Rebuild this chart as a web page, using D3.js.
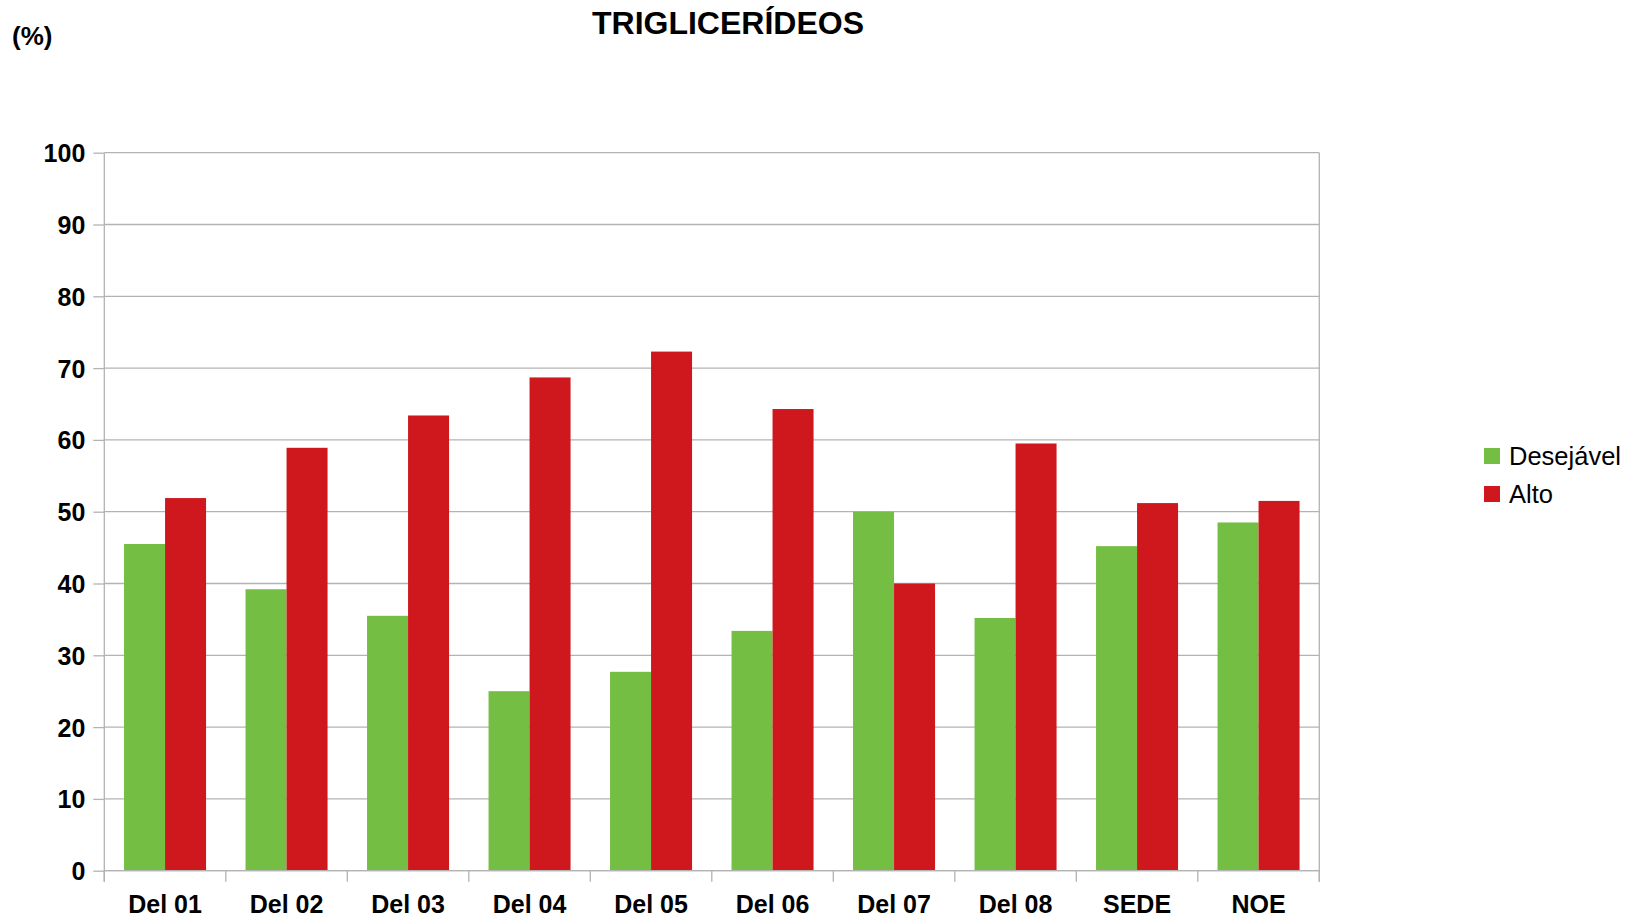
<!DOCTYPE html>
<html>
<head>
<meta charset="utf-8">
<script src="https://cdn.jsdelivr.net/npm/d3@7"></script>
<style>
  body { margin: 0; background: #fff; }
  svg { font-family: "Liberation Sans", Arial, sans-serif; }
  .grid line { stroke: #b3b3b3; stroke-width: 1.3; }
  .axis path, .axis line { stroke: #b3b3b3; stroke-width: 1.3; }
  .axis text { font-size: 25px; font-weight: bold; fill: #000; }
</style>
</head>
<body>
<svg width="1637" height="919"></svg>
<script>
var categories = ["Del 01", "Del 02", "Del 03", "Del 04", "Del 05", "Del 06", "Del 07", "Del 08", "SEDE", "NOE"];
var desejavel = [45.5, 39.2, 35.5, 25.0, 27.7, 33.4, 50.0, 35.2, 45.2, 48.5];
var alto = [51.9, 58.9, 63.4, 68.7, 72.3, 64.3, 40.0, 59.5, 51.2, 51.5];
var seriesNames = ["Desejável", "Alto"];
var seriesColors = ["#73be43", "#ce181e"];
var yTicks = [0, 10, 20, 30, 40, 50, 60, 70, 80, 90, 100];

var svg = d3.select("svg");
// note: "top" is reserved on window, so use plot* names
var plotL = 104.3, plotR = 1319.3, plotT = 152.7, plotB = 870.7;

var x = d3.scaleBand()
    .domain(categories)
    .range([plotL, plotR])
    .paddingInner(0.325)
    .paddingOuter(0.1625);

var xs = d3.scaleBand()
    .domain(seriesNames)
    .range([0, x.bandwidth()]);

var y = d3.scaleLinear()
    .domain([0, 100])
    .range([plotB, plotT]);

// gridlines
svg.append("g")
    .attr("class", "grid")
  .selectAll("line")
  .data(yTicks)
  .enter().append("line")
    .attr("x1", plotL)
    .attr("x2", plotR)
    .attr("y1", function(d) { return y(d); })
    .attr("y2", function(d) { return y(d); });

// right frame
svg.append("line")
    .attr("x1", plotR).attr("x2", plotR)
    .attr("y1", plotT).attr("y2", plotB + 11)
    .attr("stroke", "#b3b3b3").attr("stroke-width", 1.3);

var rows = categories.map(function(c, i) {
  return { cat: c, vals: [desejavel[i], alto[i]] };
});

var groups = svg.append("g").selectAll("g")
  .data(rows)
  .enter().append("g")
    .attr("transform", function(d) { return "translate(" + x(d.cat) + ",0)"; });

groups.selectAll("rect")
  .data(function(d) { return d.vals.map(function(v, j) { return { s: seriesNames[j], v: v, j: j }; }); })
  .enter().append("rect")
    .attr("x", function(d) { return xs(d.s); })
    .attr("width", xs.bandwidth())
    .attr("y", function(d) { return y(d.v); })
    .attr("height", function(d) { return plotB - y(d.v); })
    .attr("fill", function(d) { return seriesColors[d.j]; });

// y axis
var yAxis = svg.append("g")
    .attr("class", "axis")
    .attr("transform", "translate(" + plotL + ",0)")
    .call(d3.axisLeft(y).tickValues(yTicks).tickSize(11).tickSizeOuter(0).tickPadding(8));
yAxis.select(".domain").attr("d", "M0," + plotT + "V" + (plotB + 11));
yAxis.selectAll("text").attr("dy", "0.36em");

// x axis: ticks at category boundaries
var step = x.step();
var bounds = d3.range(categories.length + 1).map(function(i) { return plotL + i * step; });
svg.append("g")
    .attr("class", "axis")
  .selectAll("line")
  .data(bounds)
  .enter().append("line")
    .attr("x1", function(d) { return d; })
    .attr("x2", function(d) { return d; })
    .attr("y1", plotB)
    .attr("y2", plotB + 11);

svg.append("line")
    .attr("x1", plotL).attr("x2", plotR)
    .attr("y1", plotB).attr("y2", plotB)
    .attr("stroke", "#b3b3b3").attr("stroke-width", 1.3);

svg.append("g")
    .attr("class", "axis")
  .selectAll("text")
  .data(categories)
  .enter().append("text")
    .attr("x", function(d) { return x(d) + x.bandwidth() / 2; })
    .attr("y", 913)
    .attr("text-anchor", "middle")
    .text(function(d) { return d; });

// title
svg.append("text")
    .attr("x", 728)
    .attr("y", 34)
    .attr("text-anchor", "middle")
    .attr("font-size", 32)
    .attr("font-weight", "bold")
    .text("TRIGLICERÍDEOS");

svg.append("text")
    .attr("x", 12)
    .attr("y", 45)
    .attr("font-size", 26)
    .attr("font-weight", "bold")
    .text("(%)");

// legend
var legend = svg.append("g")
    .attr("transform", "translate(1484,448)");
var li = legend.selectAll("g")
  .data(seriesNames)
  .enter().append("g")
    .attr("transform", function(d, i) { return "translate(0," + (i * 38) + ")"; });
li.append("rect")
    .attr("width", 16)
    .attr("height", 16)
    .attr("fill", function(d, i) { return seriesColors[i]; });
li.append("text")
    .attr("x", 25)
    .attr("y", 8)
    .attr("dy", "0.36em")
    .attr("font-size", 25.5)
    .text(function(d) { return d; });
</script>
</body>
</html>
